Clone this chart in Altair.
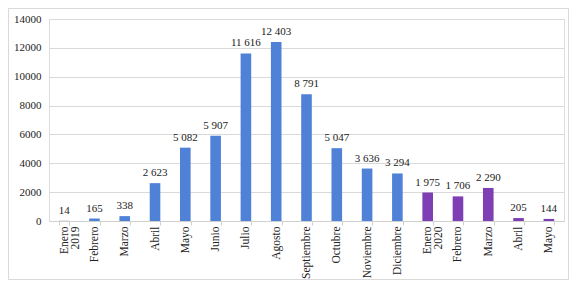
import json
import altair as alt
import pandas as pd

labels = ["Enero|2019", "Febrero", "Marzo", "Abril", "Mayo", "Junio", "Julio", "Agosto",
          "Septiembre", "Octubre", "Noviembre", "Diciembre", "Enero|2020", "Febrero",
          "Marzo", "Abril", "Mayo"]
values = [14, 165, 338, 2623, 5082, 5907, 11616, 12403, 8791, 5047, 3636, 3294,
          1975, 1706, 2290, 205, 144]
years = ["2019"] * 12 + ["2020"] * 5
text_labels = ["14", "165", "338", "2 623", "5 082", "5 907", "11 616", "12 403", "8 791",
               "5 047", "3 636", "3 294", "1 975", "1 706", "2 290", "205", "144"]

df = pd.DataFrame({"idx": list(range(len(labels))), "value": values,
                   "year": years, "txt": text_labels})

FONT = "Liberation Serif"
label_expr = ("isValid(datum.value) ? split(" + json.dumps(labels)
              + "[datum.value], '|') : ''")

x = alt.X("idx:O", title=None, scale=alt.Scale(paddingInner=0.65, paddingOuter=0.325),
          axis=alt.Axis(labelExpr=label_expr, labelAngle=-90, labelAlign="right",
                        labelBaseline="middle", labelFont=FONT, labelFontSize=11.5,
                        labelColor="#222", tickBand="extent", tickColor="#d0d0d0",
                        tickSize=4, domainColor="#d0d0d0", labelPadding=1,
                        labelLineHeight=11))

y = alt.Y("value:Q", title=None,
          scale=alt.Scale(domain=[0, 14000], nice=False),
          axis=alt.Axis(values=list(range(0, 14001, 2000)), format="d", labelFont=FONT,
                        labelFontSize=11, labelColor="#222", domain=False, ticks=False,
                        labelPadding=8, gridColor="#d9d9d9"))

bars = alt.Chart(df).mark_bar().encode(
    x=x, y=y,
    color=alt.Color("year:N", scale=alt.Scale(domain=["2019", "2020"],
                                              range=["#4F81D6", "#7E3FB5"]), legend=None),
)

text = alt.Chart(df).mark_text(dy=-10, font=FONT, fontSize=11, color="#222").encode(
    x=x, y=y, text="txt:N")

border = alt.Chart(pd.DataFrame({"a": [0]})).mark_rect(
    fill=None, stroke="#d9d9d9", strokeWidth=1).encode(
    x=alt.value(-40.5), x2=alt.value(519.5), y=alt.value(-10.5), y2=alt.value(260.5))

chart = alt.layer(bars, text, border).properties(
    width=515, height=202,
    autosize=alt.AutoSizeParams(type="none"),
    padding={"left": 41, "top": 11, "right": 5, "bottom": 59},
).configure_view(stroke=None).configure(background="white")

chart.save("out.html", embed_options={"renderer": "svg", "actions": False})
